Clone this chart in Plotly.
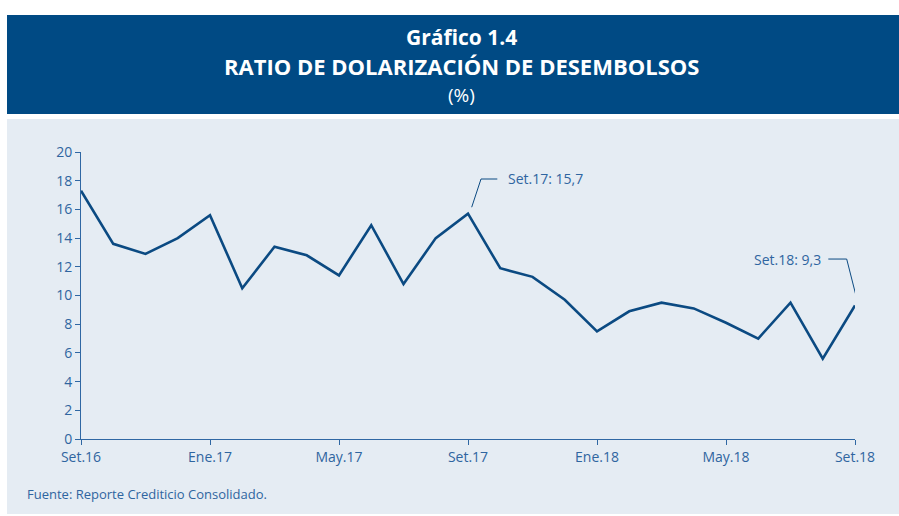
import plotly.graph_objects as go

months = ["Set.16", "Oct.16", "Nov.16", "Dic.16", "Ene.17", "Feb.17", "Mar.17", "Abr.17",
          "May.17", "Jun.17", "Jul.17", "Ago.17", "Set.17", "Oct.17", "Nov.17", "Dic.17",
          "Ene.18", "Feb.18", "Mar.18", "Abr.18", "May.18", "Jun.18", "Jul.18", "Ago.18", "Set.18"]
ratio = [17.3, 13.6, 12.9, 14.0, 15.6, 10.5, 13.4, 12.8, 11.4, 14.9, 10.8, 14.0, 15.7,
         11.9, 11.3, 9.7, 7.5, 8.9, 9.5, 9.1, 8.1, 7.0, 9.5, 5.6, 9.3]
tick_labels = ["Set.16", "Ene.17", "May.17", "Set.17", "Ene.18", "May.18", "Set.18"]
y_ticks = list(range(0, 21, 2))

W, H = 899, 516
L, R, T, B = 81, 855, 152, 439
pw, ph = R - L, B - T

def px(x):
    return (x - L) / pw

def py(y):
    return (B - y) / ph

NAVY = "#004a84"
PANEL = "#e5ecf3"
LINE = "#0b4a82"
AX = "#2f67a3"
TXT = "#2f65a0"
FONT = "Open Sans"

fig = go.Figure()
fig.add_trace(go.Scatter(x=months, y=ratio, mode="lines",
                         line=dict(color=LINE, width=2.6), hoverinfo="skip"))

shapes = [
    dict(type="rect", xref="paper", yref="paper", x0=px(7), x1=px(900), y0=py(15), y1=py(114),
         fillcolor=NAVY, line=dict(width=0), layer="below"),
    dict(type="rect", xref="paper", yref="paper", x0=px(7), x1=px(900), y0=py(119), y1=py(514),
         fillcolor=PANEL, line=dict(width=0), layer="below"),
]

i17 = months.index("Set.17")
i18 = months.index("Set.18")
shapes.append(dict(type="path", xref="x", yref="y", xsizemode="pixel", ysizemode="pixel",
                   xanchor=months[i17], yanchor=ratio[i17],
                   path="M 3.7,6.5 L 13,34.7 L 29.3,34.7",
                   line=dict(color=LINE, width=1)))
shapes.append(dict(type="path", xref="x", yref="y", xsizemode="pixel", ysizemode="pixel",
                   xanchor=months[i18], yanchor=ratio[i18],
                   path="M 2.7,3.1 L -8.3,46.5 L -26.7,46.5",
                   line=dict(color=LINE, width=1)))

annotations = [
    dict(text="<b>Gráfico 1.4</b>", xref="paper", yref="paper", x=px(461), y=py(37),
         xanchor="center", yanchor="middle", showarrow=False, borderpad=0,
         font=dict(family=FONT, size=21, color="white")),
    dict(text="<b>RATIO DE DOLARIZACIÓN DE DESEMBOLSOS</b>", xref="paper", yref="paper",
         x=px(461), y=py(66.5), xanchor="center", yanchor="middle", showarrow=False,
         borderpad=0, font=dict(family=FONT, size=22, color="white")),
    dict(text="(%)", xref="paper", yref="paper", x=px(461), y=py(95),
         xanchor="center", yanchor="middle", showarrow=False, borderpad=0,
         font=dict(family=FONT, size=19, color="white")),
    dict(text="Fuente: Reporte Crediticio Consolidado.", xref="paper", yref="paper",
         x=px(25), y=py(494), xanchor="left", yanchor="middle", showarrow=False,
         font=dict(family=FONT, size=13, color=TXT)),
    dict(text="Set.17: 15,7", x=months[i17], y=ratio[i17], xref="x", yref="y",
         xanchor="left", yanchor="middle", xshift=38, yshift=35, showarrow=False,
         font=dict(family=FONT, size=14, color=TXT)),
    dict(text="Set.18: 9,3", x=months[i18], y=ratio[i18], xref="x", yref="y",
         xanchor="right", yanchor="middle", xshift=-32, yshift=46.5, showarrow=False,
         font=dict(family=FONT, size=14, color=TXT)),
]

fig.update_layout(
    width=W, height=H,
    margin=dict(l=L, r=W - R, t=T, b=H - B, pad=0),
    paper_bgcolor="white", plot_bgcolor="rgba(0,0,0,0)",
    showlegend=False,
    shapes=shapes, annotations=annotations,
    font=dict(family=FONT, size=14, color=TXT),
    xaxis=dict(type="category", categoryorder="array", categoryarray=months,
               range=[0, len(months) - 1], tickmode="array", tickvals=tick_labels,
               ticktext=tick_labels, ticks="outside", ticklen=5, tickcolor=AX, tickwidth=1,
               showline=True, linecolor=AX, linewidth=1, showgrid=False, zeroline=False,
               tickfont=dict(family=FONT, size=14, color=TXT), fixedrange=True),
    yaxis=dict(range=[0, 20], tickmode="array", tickvals=y_ticks, ticks="outside",
               ticklen=5, tickcolor=AX, tickwidth=1, showline=True, linecolor=AX,
               linewidth=1, showgrid=False, zeroline=False,
               tickfont=dict(family=FONT, size=14, color=TXT), fixedrange=True),
)

fig.write_html("out.html", config={"displayModeBar": False},
               post_script="document.body.style.margin='0';document.body.style.overflow='hidden';")
